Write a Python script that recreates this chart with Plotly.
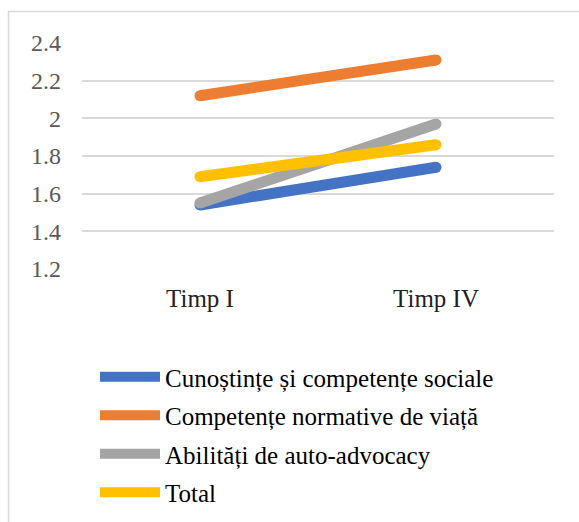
import plotly.graph_objects as go

categories = ["Timp I", "Timp IV"]
series_names = [
    "Cunoștințe și competențe sociale",
    "Competențe normative de viață",
    "Abilități de auto-advocacy",
    "Total",
]
cunostinte = [1.54, 1.74]
competente = [2.12, 2.31]
abilitati = [1.55, 1.97]
total = [1.69, 1.86]
y_ticks = [1.2, 1.4, 1.6, 1.8, 2.0, 2.2, 2.4]
y_tick_labels = ["1.2", "1.4", "1.6", "1.8", "2", "2.2", "2.4"]
colors = ["#4472C4", "#ED7D31", "#A5A5A5", "#FFC000"]

SERIF = "Liberation Serif, Times New Roman, serif"
W, H = 579, 522
L, R, T, B = 82, 25, 43, 253
pw, ph = W - L - R, H - T - B

fig = go.Figure()
for i, (name, vals, c) in enumerate(zip(series_names, [cunostinte, competente, abilitati, total], colors)):
    fig.add_trace(go.Scatter(x=categories, y=vals, name=name, mode="lines",
                             legendgroup=f"g{i}",
                             line=dict(color=c, width=11)))
    fig.add_trace(go.Scatter(x=categories, y=vals, mode="markers", showlegend=False,
                             legendgroup=f"g{i}",
                             marker=dict(color=c, size=11, line=dict(width=0)),
                             hoverinfo="skip"))

def px_x(x):
    return (x - L) / pw

def px_y(y):
    return (H - B - y) / ph

fig.add_shape(type="rect", xref="paper", yref="paper",
              x0=px_x(8.5), x1=px_x(585), y0=px_y(530), y1=px_y(11.5),
              line=dict(color="#d9d9d9", width=1.5), fillcolor="rgba(0,0,0,0)")

fig.update_layout(
    width=W, height=H,
    margin=dict(l=L, r=R, t=T, b=B, autoexpand=False),
    paper_bgcolor="white", plot_bgcolor="white",
    font=dict(family=SERIF, color="black"),
    xaxis=dict(type="category", range=[-0.5, 1.5], showgrid=False, zeroline=False,
               showline=False, ticks="", ticklabelstandoff=12, automargin=False,
               tickfont=dict(family=SERIF, size=25, color="#222222"), fixedrange=True),
    yaxis=dict(range=[1.2, 2.4], tickvals=y_ticks, ticktext=y_tick_labels,
               showgrid=True, gridcolor="#d9d9d9", gridwidth=1.5, automargin=False,
               zeroline=False, showline=False, ticks="", ticklabelstandoff=20,
               tickfont=dict(family=SERIF, size=24, color="#595959")),
    showlegend=True,
    legend=dict(x=px_x(95), y=px_y(354), xanchor="left", yanchor="top",
                orientation="v", font=dict(family=SERIF, size=25, color="black"),
                itemwidth=60, tracegroupgap=3, bgcolor="rgba(0,0,0,0)"),
)

fig.write_html("out.html", config={"displayModeBar": False},
               post_script="document.body.style.margin='0';document.body.style.padding='0';")
